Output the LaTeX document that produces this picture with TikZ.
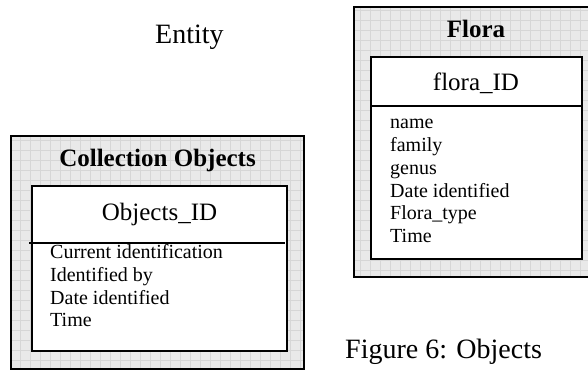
\documentclass[tikz,border=0pt]{standalone}
\usepackage{fontspec}
\setmainfont{Liberation Serif}
\usetikzlibrary{positioning}

\tikzset{
  outerbox/.style={draw=black, line width=1.8pt},
  outerfill/.style={fill=gray!17},
  texture/.style={draw=gray!32, line width=0.4pt, step=10pt},
  innerbox/.style={draw=black, line width=1.3pt, fill=white},
  attr/.style={anchor=base west, inner sep=0pt, font=\fontsize{20}{22}\selectfont},
  keyname/.style={anchor=base, inner sep=0pt, font=\fontsize{25}{28}\selectfont},
  entname/.style={anchor=base, inner sep=0pt, font=\bfseries\fontsize{25}{28}\selectfont},
  caption/.style={anchor=base west, inner sep=0pt, font=\fontsize{28}{32}\selectfont}
}

\begin{document}
\begin{tikzpicture}[x=1pt, y=-1pt]

        \useasboundingbox (0,0) rectangle (588,371);
        \clip (0,0) rectangle (588,371);

        % Rahmen Collection Objects
        \fill[outerfill] (11,136) rectangle (304,369);
        \begin{scope}
            \clip (11,136) rectangle (304,369);
            \draw[texture] (11,136) grid (304,369);
        \end{scope}
        \draw[outerbox] (11,136) rectangle (304,369);
        \draw[innerbox] (32,186) rectangle (287,351);
        \draw[line width=1.2pt] (29,243) -- (285,243);

        % Rahmen Flora
        \fill[outerfill] (354,7) rectangle (598,277);
        \begin{scope}
            \clip (354,7) rectangle (598,277);
            \draw[texture] (354,7) grid (598,277);
        \end{scope}
        \draw[outerbox] (354,7) rectangle (598,277);
        \draw[innerbox] (371,57) rectangle (582,259);
        \draw[line width=1.2pt] (371,106) -- (582,106);

        \node[caption] (entity) at (155,44) {Entity};

        \node[entname] (colltitle) at (157.5,167) {Collection Objects};
        \node[keyname] (collkey) at (159.5,221) {Objects\_ID};
        \node[attr] (coll1) at (50,258.6) {Current identification};
        \node[attr] (coll2) at (50,281.3) {Identified by};
        \node[attr] (coll3) at (50,304) {Date identified};
        \node[attr] (coll4) at (50,326.7) {Time};

        \node[entname] (floratitle) at (476,38) {Flora};
        \node[keyname] (florakey) at (476,91) {flora\_ID};
        \node[attr] (flora1) at (390,129) {name};
        \node[attr] (flora2) at (390,151.7) {family};
        \node[attr] (flora3) at (390,174.4) {genus};
        \node[attr] (flora4) at (390,197.1) {Date identified};
        \node[attr] (flora5) at (390,219.8) {Flora\_type};
        \node[attr] (flora6) at (390,242.5) {Time};

        \node[caption] (figcap) at (345,358) {Figure 6: Objects}; % Bildunterschrift

\end{tikzpicture}
\end{document}
